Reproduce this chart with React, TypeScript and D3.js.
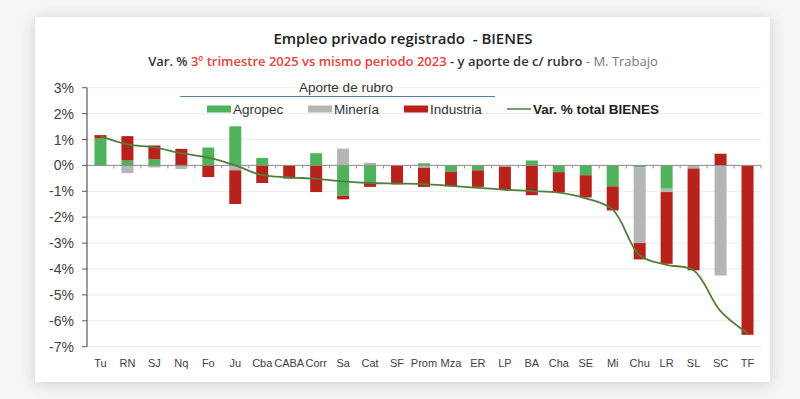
import * as d3 from 'd3';

const provinces = ['Tu', 'RN', 'SJ', 'Nq', 'Fo', 'Ju', 'Cba', 'CABA', 'Corr', 'Sa', 'Cat', 'SF', 'Prom', 'Mza', 'ER', 'LP', 'BA', 'Cha', 'SE', 'Mi', 'Chu', 'LR', 'SL', 'SC', 'TF'];
const agropec = [1.04, 0.19, 0.24, -0.05, 0.69, 1.51, 0.29, 0, 0.47, -1.17, -0.68, 0, 0.08, -0.25, -0.19, 0, 0.19, -0.26, -0.38, -0.81, -0.08, -0.9, 0, 0, 0];
const mineria = [0, -0.3, -0.08, -0.09, 0, -0.19, 0, 0, 0, 0.65, 0.1, 0, -0.09, 0, 0, -0.06, 0, 0, 0, 0, -2.92, -0.13, -0.12, -4.25, 0];
const industria = [0.13, 0.94, 0.53, 0.64, -0.45, -1.3, -0.68, -0.51, -1.03, -0.14, -0.15, -0.73, -0.74, -0.56, -0.64, -0.88, -1.15, -0.79, -0.86, -0.93, -0.63, -2.77, -3.93, 0.45, -6.54];
const totalVar = [1.13, 0.81, 0.7, 0.47, 0.3, 0.0, -0.38, -0.46, -0.52, -0.62, -0.68, -0.7, -0.72, -0.79, -0.87, -0.94, -0.99, -1.05, -1.27, -1.71, -3.47, -3.84, -4.05, -5.63, -6.48];
const yTicks = [3, 2, 1, 0, -1, -2, -3, -4, -5, -6, -7];

const seriesKeys = ['agropec', 'mineria', 'industria'];
const colors: Record<string, string> = { agropec: '#4fb35b', mineria: '#b5b5b5', industria: '#b9211b' };
const lineColor = '#4f7f3b';

export default function App() {
  const width = 800;
  const height = 399;

  const x = d3.scaleBand<string>().domain(provinces).range([87, 761]);
  const y = d3.scaleLinear().domain([-7, 3]).range([346.7, 87.7]);
  const barW = 12;

  const rows = provinces.map((p, i) => ({ p, agropec: agropec[i], mineria: mineria[i], industria: industria[i] }));
  const stacked = d3.stack<any>().keys(seriesKeys).offset(d3.stackOffsetDiverging)(rows);

  const line = d3.line<number>()
    .x((_, i) => (x(provinces[i]) as number) + x.bandwidth() / 2)
    .y(d => y(d))
    .curve(d3.curveCatmullRom.alpha(0.5));

  const font = 'Liberation Sans, Arial, sans-serif';
  const titleFont = 'Open Sans, Noto Sans, sans-serif';

  return (
    <svg width={width} height={height} style={{ position: 'absolute', left: 0, top: 0 }}>
      <defs>
        <filter id="shadow" x="-10%" y="-10%" width="120%" height="120%">
          <feDropShadow dx="0" dy="2" stdDeviation="7" floodColor="#000" floodOpacity="0.16" />
        </filter>
      </defs>
      <rect width={width} height={height} fill="#f5f5f5" />
      <rect x={35} y={17} width={735} height={365} fill="#fff" filter="url(#shadow)" />

      {/* titles */}
      <text x={403} y={44} textAnchor="middle" fontFamily={titleFont} fontWeight={600} fontSize={15} fill="#222" xmlSpace="preserve">
        {'Empleo privado registrado  - BIENES'}
      </text>
      <text x={403} y={66} textAnchor="middle" fontFamily={titleFont} fontWeight={600} fontSize={13} fill="#333" xmlSpace="preserve">
        <tspan>{'Var. % '}</tspan>
        <tspan fill="#e8413c">3º trimestre 2025 vs mismo periodo 2023</tspan>
        <tspan>{' - y aporte de c/ rubro'}</tspan>
        <tspan fontWeight={400} fill="#777">{' - M. Trabajo'}</tspan>
      </text>

      {/* grid */}
      {yTicks.map(t => (
        <line key={'g' + t} x1={87} x2={761} y1={y(t)} y2={y(t)} stroke="#ececec" strokeWidth={1} />
      ))}

      {/* bars */}
      {stacked.map(s => (
        <g key={s.key} fill={colors[s.key]}>
          {s.map((d, i) => {
            const y0 = y(d[0]);
            const y1 = y(d[1]);
            if (Math.abs(y0 - y1) < 0.01) return null;
            return (
              <rect key={i} x={(x(provinces[i]) as number) + (x.bandwidth() - barW) / 2}
                y={Math.min(y0, y1)} width={barW} height={Math.abs(y0 - y1)} />
            );
          })}
        </g>
      ))}

      {/* x axis */}
      <line x1={87} x2={761} y1={y(0)} y2={y(0)} stroke="#8c8c8c" strokeWidth={1} />
      {provinces.map(p => (
        <line key={'xt' + p} x1={(x(p) as number) + x.bandwidth()} x2={(x(p) as number) + x.bandwidth()}
          y1={y(0)} y2={y(0) + 3} stroke="#8c8c8c" strokeWidth={1} />
      ))}
      {provinces.map(p => (
        <text key={'xl' + p} x={(x(p) as number) + x.bandwidth() / 2} y={367} textAnchor="middle"
          fontFamily={font} fontSize={11} fill="#404040">{p}</text>
      ))}

      {/* y axis */}
      <line x1={87} x2={87} y1={y(3)} y2={y(-7)} stroke="#595959" strokeWidth={1.2} />
      {yTicks.map(t => (
        <g key={'yt' + t}>
          <line x1={82} x2={87} y1={y(t)} y2={y(t)} stroke="#595959" strokeWidth={1} />
          <text x={74} y={y(t) + 5} textAnchor="end" fontFamily={font} fontSize={14} fill="#404040">{`${t}%`}</text>
        </g>
      ))}

      {/* total line */}
      <path d={line(totalVar) as string} fill="none" stroke={lineColor} strokeWidth={1.8} />

      {/* legend */}
      <text x={346} y={92} textAnchor="middle" fontFamily={font} fontSize={13.5} fill="#333">Aporte de rubro</text>
      <line x1={180} x2={495} y1={96.5} y2={96.5} stroke="#5b80a8" strokeWidth={1.2} />
      {[
        { key: 'agropec', label: 'Agropec', x: 207 },
        { key: 'mineria', label: 'Minería', x: 308 },
        { key: 'industria', label: 'Industria', x: 404 },
      ].map(l => (
        <g key={'lg' + l.key}>
          <rect x={l.x} y={105.5} width={24} height={7} fill={colors[l.key]} />
          <text x={l.x + 26} y={114} fontFamily={font} fontSize={13.5} fill="#333">{l.label}</text>
        </g>
      ))}
      <line x1={507} x2={531} y1={109} y2={109} stroke={lineColor} strokeWidth={1.5} />
      <text x={533} y={114} fontFamily={font} fontSize={13.5} fontWeight={700} fill="#222">Var. % total BIENES</text>
    </svg>
  );
}
